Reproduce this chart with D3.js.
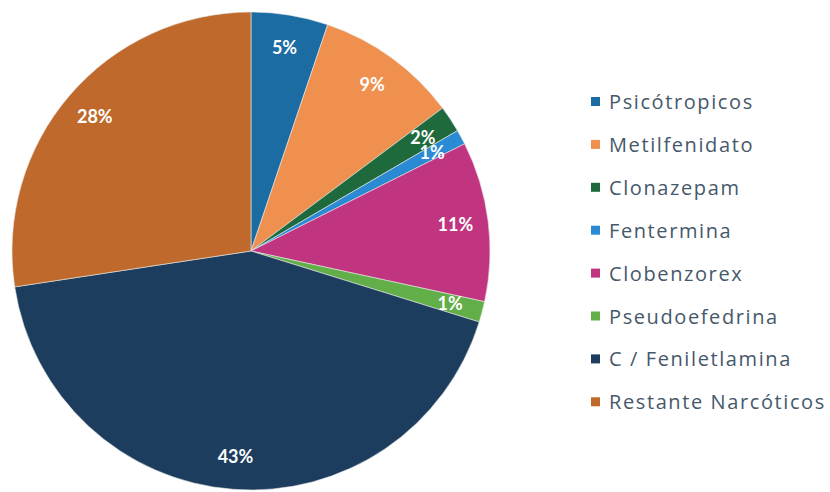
<!DOCTYPE html>
<html>
<head>
<meta charset="utf-8">
<script src="https://cdn.jsdelivr.net/npm/d3@7"></script>
<style>
  body { margin: 0; background: #fff; }
  svg { display: block; }
</style>
</head>
<body>
<div id="chart"></div>
<script>
// Données du graphique
const categories = ['Psicótropicos', 'Metilfenidato', 'Clonazepam', 'Fentermina',
    'Clobenzorex', 'Pseudoefedrina', 'C / Feniletlamina', 'Restante Narcóticos'];
const values = [5.2, 9.6, 1.8, 1.0, 10.8, 1.4, 42.8, 27.4];
const labels = ['5%', '9%', '2%', '1%', '11%', '1%', '43%', '28%'];
const colors = ['#1b6ca3', '#f0904e', '#1f6a3c', '#2b8ad4', '#c13580', '#62ae48', '#1c3d5e', '#bf6a2c'];

const width = 830;
const height = 492;
const cx = 251, cy = 251, radius = 239;

const svg = d3.select('#chart')
    .append('svg')
    .attr('width', width)
    .attr('height', height);

const data = categories.map((c, i) => ({ name: c, value: values[i], label: labels[i], color: colors[i] }));

const pie = d3.pie()
    .value(d => d.value)
    .sort(null);

const arc = d3.arc()
    .innerRadius(0)
    .outerRadius(radius);

const labelArc = d3.arc()
    .innerRadius(206)
    .outerRadius(206);

const g = svg.append('g')
    .attr('transform', `translate(${cx},${cy})`);

const arcs = pie(data);

g.selectAll('.slice')
    .data(arcs)
    .enter()
    .append('path')
    .attr('class', 'slice')
    .attr('d', arc)
    .attr('fill', d => d.data.color)
    .attr('stroke', '#e8e8e8')
    .attr('stroke-width', 0.6);

// Étiquettes de pourcentage
g.selectAll('.pct')
    .data(arcs)
    .enter()
    .append('text')
    .attr('class', 'pct')
    .attr('transform', d => `translate(${labelArc.centroid(d)})`)
    .attr('text-anchor', 'middle')
    .attr('dy', '0.35em')
    .style('fill', '#fff')
    .style('font-family', 'Lato, sans-serif')
    .style('font-weight', 'bold')
    .style('font-size', '18px')
    .text(d => d.data.label);

// Légende
const legend = svg.append('g')
    .attr('transform', 'translate(591, 102)');

data.forEach((d, i) => {
    const row = legend.append('g')
        .attr('transform', `translate(0, ${i * 42.9})`);

    row.append('rect')
        .attr('x', 0)
        .attr('y', -5)
        .attr('width', 9)
        .attr('height', 9)
        .attr('fill', d.color);

    row.append('text')
        .attr('x', 18)
        .attr('y', 0)
        .attr('dy', '0.35em')
        .style('fill', '#46586a')
        .style('font-family', '"Open Sans", sans-serif')
        .style('font-size', '20px')
        .style('letter-spacing', '1.6px')
        .text(d.name);
});
</script>
</body>
</html>
